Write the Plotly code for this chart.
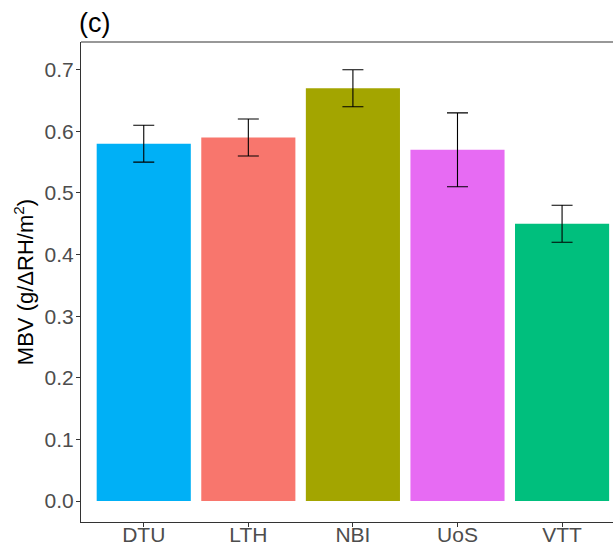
import plotly.graph_objects as go

# Moisture buffer values per laboratory, with error range
labs = ["DTU", "LTH", "NBI", "UoS", "VTT"]
mbv = [0.58, 0.59, 0.67, 0.57, 0.45]
err = [0.03, 0.03, 0.03, 0.06, 0.03]
colors = ["#00B0F6", "#F8766D", "#A3A500", "#E76BF3", "#00BF7D"]
y_ticks = [0.0, 0.1, 0.2, 0.3, 0.4, 0.5, 0.6, 0.7]

FONT = "Liberation Sans, Arial, sans-serif"

fig = go.Figure(
    go.Bar(
        x=labs,
        y=mbv,
        width=0.9,
        marker=dict(color=colors, line=dict(width=0)),
        error_y=dict(type="data", array=err, visible=True,
                     color="black", thickness=1.1, width=10.5),
        showlegend=False,
    )
)

axis_line = "#333333"

fig.update_layout(
    width=613,
    height=550,
    margin=dict(l=81, r=0, t=42, b=28),
    paper_bgcolor="white",
    plot_bgcolor="white",
    font=dict(family=FONT),
    xaxis=dict(
        range=[-0.6, 4.487],
        automargin=False,
        showgrid=False,
        zeroline=False,
        showline=True,
        linecolor=axis_line,
        linewidth=1.2,
        ticks="outside",
        ticklen=4,
        tickcolor=axis_line,
        tickwidth=1.1,
        ticklabelstandoff=-10,
        tickfont=dict(size=21, color="#4D4D4D", family=FONT),
    ),
    yaxis=dict(
        range=[-0.034, 0.745],
        automargin=False,
        tickvals=y_ticks,
        ticktext=[f"{v:.1f}" for v in y_ticks],
        showgrid=False,
        zeroline=False,
        showline=True,
        linecolor=axis_line,
        linewidth=1.2,
        ticks="outside",
        ticklen=4,
        tickcolor=axis_line,
        tickwidth=1.1,
        ticklabelstandoff=-2,
        tickfont=dict(size=21, color="#4D4D4D", family=FONT),
        title=dict(text="MBV (g/ΔRH/m<sup>2</sup>)",
                   font=dict(size=22, color="black", family=FONT),
                   standoff=4),
    ),
    shapes=[
        # top edge of the panel border
        dict(type="line", xref="paper", yref="paper", x0=0, x1=1, y0=1, y1=1,
             line=dict(color=axis_line, width=1.2)),
    ],
    annotations=[
        dict(text="(c)", xref="paper", yref="paper", x=0, y=1,
             xanchor="left", yanchor="bottom", xshift=-4, yshift=2,
             showarrow=False, font=dict(size=27, color="black", family=FONT)),
    ],
)

fig.write_html("out.html")
